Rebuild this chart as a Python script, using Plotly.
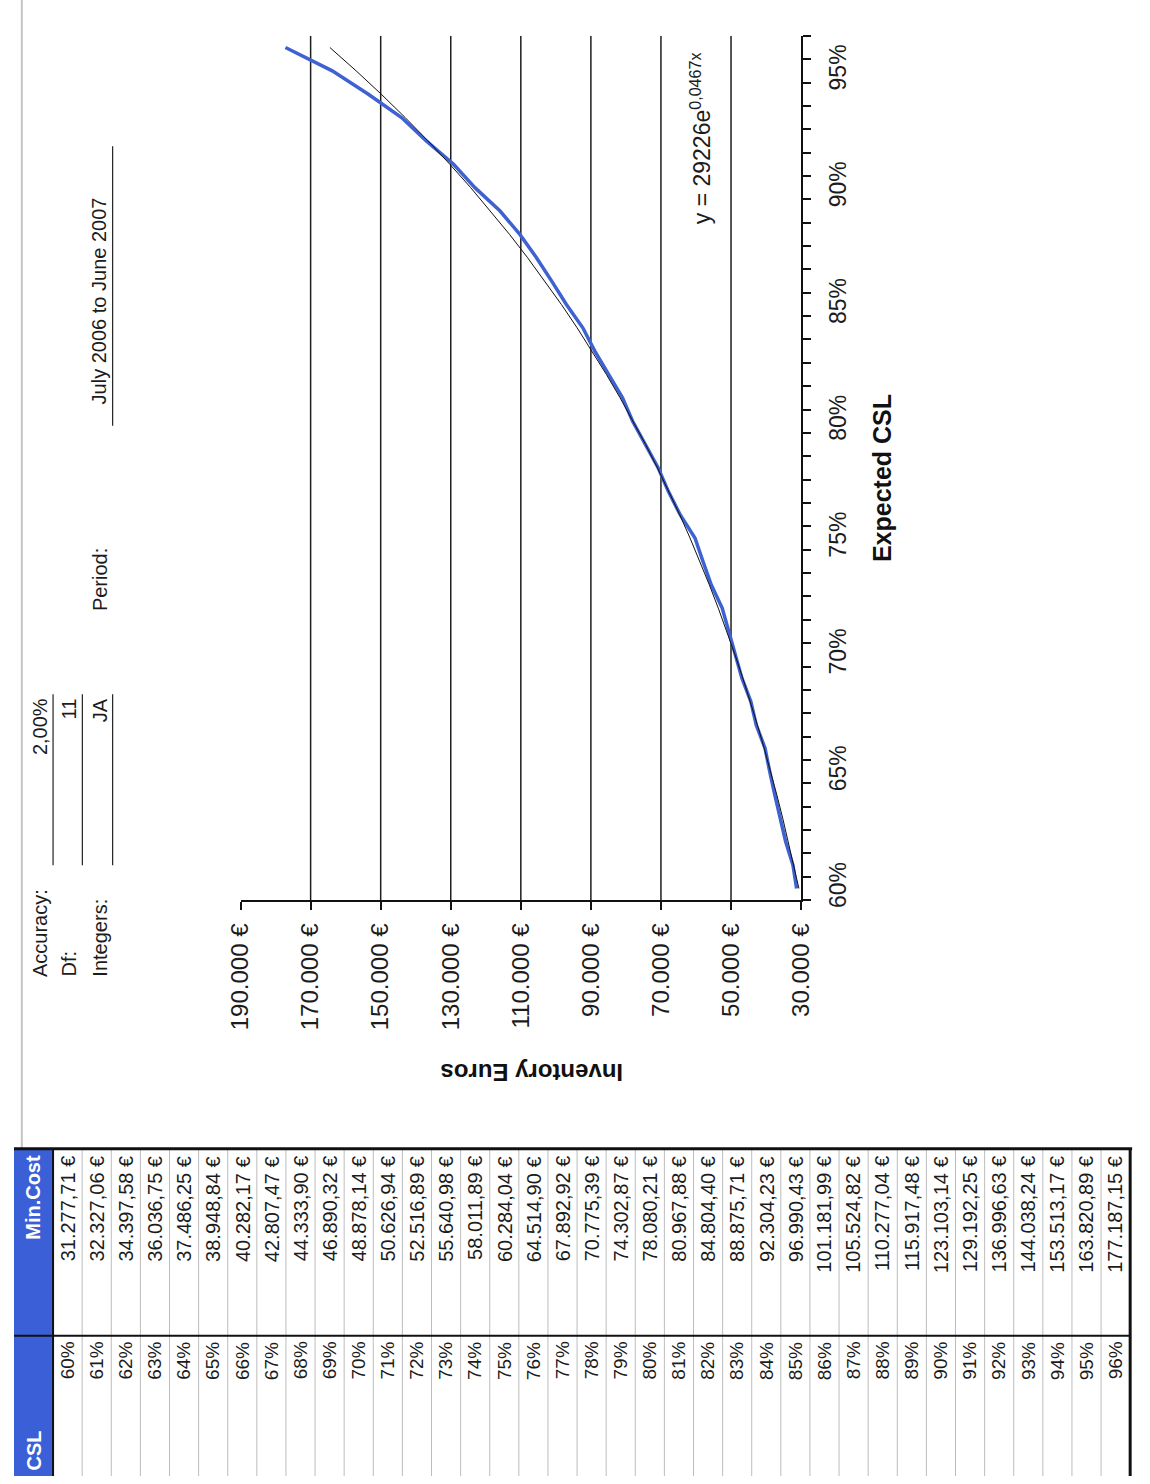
import numpy as np
import plotly.graph_objects as go

# ---- data -------------------------------------------------------------
CSL_PCT = list(range(60, 97))  # expected cycle service level, %
MIN_COST = [
    31277.71, 32327.06, 34397.58, 36036.75, 37486.25, 38948.84, 40282.17,
    42807.47, 44333.90, 46890.32, 48878.14, 50626.94, 52516.89, 55640.98,
    58011.89, 60284.04, 64514.90, 67892.92, 70775.39, 74302.87, 78080.21,
    80967.88, 84804.40, 88875.71, 92304.23, 96990.43, 101181.99, 105524.82,
    110277.04, 115917.48, 123103.14, 129192.25, 136996.63, 144038.24,
    153513.17, 163820.89, 177187.15,
]
# exponential trendline y = A * e^(B * x), x = 1..n
TREND_A = 29226
TREND_B = 0.0467

INVENTORY_TICKS = [30000, 50000, 70000, 90000, 110000, 130000, 150000, 170000, 190000]
INVENTORY_LABELS = ["30.000 €", "50.000 €", "70.000 €", "90.000 €", "110.000 €",
                    "130.000 €", "150.000 €", "170.000 €", "190.000 €"]
GRID_VALUES = [50000, 70000, 90000, 110000, 130000, 150000, 170000]
CSL_TICKS = [60, 65, 70, 75, 80, 85, 90, 95]
CSL_LABELS = ["60%", "65%", "70%", "75%", "80%", "85%", "90%", "95%"]

PARAM_LABELS = ["Accuracy:", "Df:", "Integers:"]
PARAM_VALUES = ["2,00%", "11", "JA"]
PERIOD_LABEL = "Period:"
PERIOD_VALUE = "July 2006 to June 2007"
TABLE_HEAD = ["Min.Cost", "CSL"]

# ---- page geometry (pixels) -------------------------------------------
W, H = 1150, 1484
PLOT_L, PLOT_R, PLOT_T, PLOT_B = 232, 806, 36, 905
TAB_T, TAB_SPLIT, TAB_HEAD_R, TAB_R = 1155, 1343, 40, 1143
ROW_W = (TAB_R - TAB_HEAD_R) / len(CSL_PCT)

FONT = "Liberation Sans, Arial, sans-serif"
INK = "#1c1c1c"


def px(x):
    return x / W


def py(y):
    return 1 - y / H


def eur(v):
    s = f"{v:,.2f}".replace(",", "#").replace(".", ",").replace("#", ".")
    return s + " €"


trend_x = np.arange(1, len(CSL_PCT) + 1)
trend = TREND_A * np.exp(TREND_B * trend_x)

fig = go.Figure()
fig.add_trace(go.Scatter(
    x=MIN_COST, y=CSL_PCT, mode="lines",
    line=dict(color="#3f62d2", width=3.5), hoverinfo="skip",
))
fig.add_trace(go.Scatter(
    x=trend, y=CSL_PCT, mode="lines",
    line=dict(color="#111111", width=1), hoverinfo="skip",
))

shapes = []
# value gridlines
for v in GRID_VALUES:
    shapes.append(dict(type="line", xref="x", yref="y", x0=v, x1=v, y0=59.5, y1=96.5,
                       line=dict(color="#1e1e1e", width=1.5), layer="below"))

# sheet border line on the far left
shapes.append(dict(type="line", xref="paper", yref="paper", x0=px(8), x1=px(8),
                   y0=py(0), y1=py(TAB_T), line=dict(color="#c4c4c4", width=2)))

# parameter underlines
for xline in [40, 70, 101]:
    shapes.append(dict(type="line", xref="paper", yref="paper", x0=px(xline), x1=px(xline),
                       y0=py(698), y1=py(870), line=dict(color="#222222", width=1.2)))
shapes.append(dict(type="line", xref="paper", yref="paper", x0=px(101), x1=px(101),
                   y0=py(147), y1=py(428), line=dict(color="#222222", width=1.2)))

# table: blue header column
shapes.append(dict(type="rect", xref="paper", yref="paper", x0=0, x1=px(TAB_HEAD_R),
                   y0=0, y1=py(TAB_T), fillcolor="#3a5fd6", line=dict(width=0)))
# row separators
for i in range(1, len(CSL_PCT)):
    xr = TAB_HEAD_R + i * ROW_W
    shapes.append(dict(type="line", xref="paper", yref="paper", x0=px(xr), x1=px(xr),
                       y0=0, y1=py(TAB_T), line=dict(color="#bdbdbd", width=1)))
# black table rules
shapes.append(dict(type="line", xref="paper", yref="paper", x0=0, x1=px(TAB_R + 2),
                   y0=py(TAB_T), y1=py(TAB_T), line=dict(color="#111111", width=3)))
shapes.append(dict(type="line", xref="paper", yref="paper", x0=0, x1=px(TAB_R),
                   y0=py(TAB_SPLIT), y1=py(TAB_SPLIT), line=dict(color="#111111", width=2)))
shapes.append(dict(type="line", xref="paper", yref="paper", x0=px(TAB_HEAD_R), x1=px(TAB_HEAD_R),
                   y0=0, y1=py(TAB_T), line=dict(color="#111111", width=2)))
shapes.append(dict(type="line", xref="paper", yref="paper", x0=px(TAB_R), x1=px(TAB_R),
                   y0=0, y1=py(TAB_T), line=dict(color="#111111", width=3)))

ann = []


def text(x, y, s, size=13, color=INK, angle=-90, xa="center", ya="middle", bold=False):
    ann.append(dict(xref="paper", yref="paper", x=px(x), y=py(y), text=s, showarrow=False,
                    textangle=angle, xanchor=xa, yanchor=ya,
                    font=dict(size=size, color=color, family=FONT,
                              weight="bold" if bold else "normal")))


# parameter block
for xc, lab, val in zip([26, 56, 88], PARAM_LABELS, PARAM_VALUES):
    text(xc, 984, lab, size=20, ya="bottom")
    text(xc, 700, val, size=20, ya="top")
text(88, 616, PERIOD_LABEL, size=20, ya="bottom")
text(88, 196, PERIOD_VALUE, size=20, ya="top")

# chart texts
text(703, 50, "y = 29226e<sup>0,0467x</sup>", size=23, ya="top")
text(889, 567, "Expected CSL", size=25, bold=True, color="#111111", ya="bottom")
text(530, 1079, "Inventory Euros", size=24, bold=True, angle=180, color="#111111")

# table texts
text(20, 1159, TABLE_HEAD[0], size=20, bold=True, color="white", ya="top")
text(20, 1481, TABLE_HEAD[1], size=20, bold=True, color="white", ya="bottom")
for i, (p, c) in enumerate(zip(CSL_PCT, MIN_COST)):
    xc = TAB_HEAD_R + (i + 0.5) * ROW_W
    text(xc, 1160, eur(c), size=20, ya="top")
    text(xc, 1347, f"{p}%", size=19, ya="top")

fig.update_layout(
    width=W, height=H, margin=dict(l=0, r=0, t=0, b=0),
    paper_bgcolor="white", plot_bgcolor="white", showlegend=False,
    shapes=shapes, annotations=ann,
    xaxis=dict(
        domain=[px(PLOT_L), px(PLOT_R)], range=[190000, 30000],
        tickvals=INVENTORY_TICKS, ticktext=INVENTORY_LABELS, tickangle=-90,
        ticks="outside", ticklen=8, tickwidth=1.5, tickcolor="#111111",
        showline=True, linecolor="#111111", linewidth=1.5,
        showgrid=False, zeroline=False, ticklabelstandoff=4,
        tickfont=dict(size=24, color=INK, family=FONT),
    ),
    yaxis=dict(
        domain=[py(PLOT_B), py(PLOT_T)], range=[59.5, 96.5], side="right",
        tickvals=CSL_TICKS, ticktext=CSL_LABELS, tickangle=-90, ticks="",
        showline=True, linecolor="#111111", linewidth=1.5,
        showgrid=False, zeroline=False, ticklabelstandoff=16,
        tickfont=dict(size=23, color=INK, family=FONT),
        minor=dict(tickvals=[59.5 + k for k in range(38)], ticks="outside",
                   ticklen=8, tickwidth=1.5, tickcolor="#111111", showgrid=False),
    ),
)

fig.write_html("out.html")
